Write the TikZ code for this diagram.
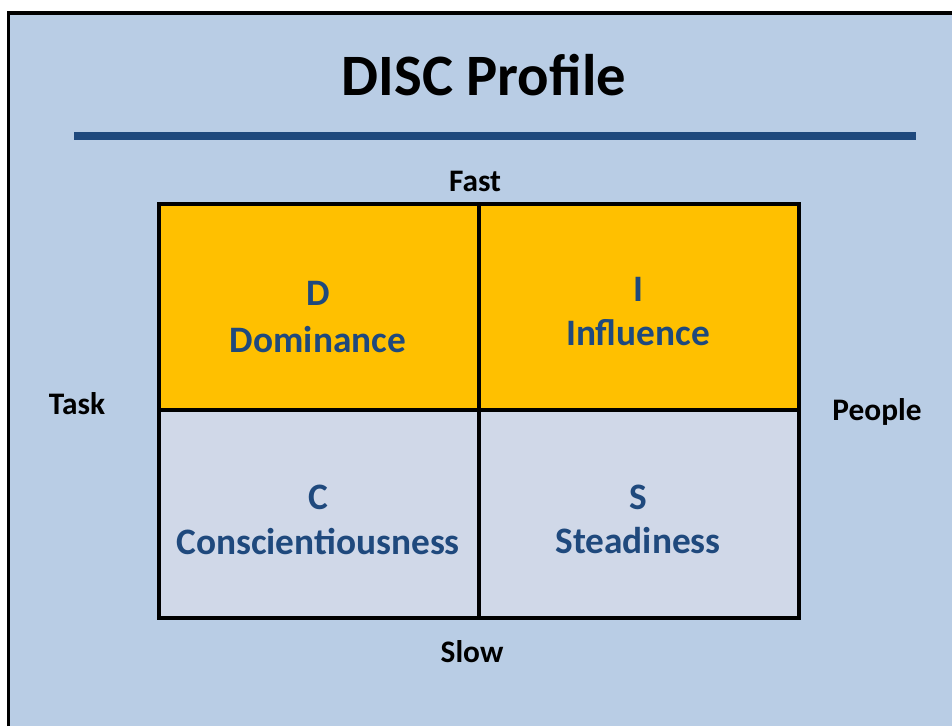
\documentclass[tikz,border=0pt]{standalone}
\usepackage{fontspec}
\setmainfont{Carlito}
\usepackage{tikz}
\usetikzlibrary{positioning}
\definecolor{slideblue}{RGB}{185,205,229}
\definecolor{discorange}{RGB}{255,192,0}
\definecolor{discgrey}{RGB}{208,216,232}
\definecolor{darkblue}{RGB}{31,73,125}

\begin{document}
\begin{tikzpicture}[%
  x=0.75pt, y=-0.75pt,
  axislabel/.style={font=\fontsize{23.5}{28}\selectfont\bfseries, text=black, inner sep=0pt},
  letter/.style={font=\fontsize{28}{32}\selectfont\bfseries, text=darkblue, inner sep=0pt},
  trait/.style={font=\fontsize{28}{32}\selectfont\bfseries, text=darkblue, inner sep=0pt},
]

  \useasboundingbox (0,0) rectangle (952,726);

  % slide background
  \fill[slideblue] (8.5,13) rectangle (952,726);
  \draw[line width=2.4pt] (8.5,726) -- (8.5,13) -- (952,13);

  \node[font=\fontsize{44}{50}\selectfont\bfseries, inner sep=0pt] (title) at (484,75) {DISC Profile};
  \coordinate (rulel) at (74,136);
  \coordinate (ruler) at (916,136);
  \draw[darkblue, line width=5.5pt] (rulel) -- (ruler);

  % quadrants
  \fill[discorange] (159,204) rectangle (799,410);
  \fill[discgrey] (159,410) rectangle (799,618);
  \draw[line width=3pt] (159,204) rectangle (799,618);
  \draw[line width=3pt] (479,204) -- (479,618);
  \draw[line width=3pt] (159,410) -- (799,410);

  \node[letter] (d) at (318,293) {D};
  \node[trait] (dominance) at (318,340) {Dominance};
  \node[letter] (i) at (638,289) {I};
  \node[trait] (influence) at (638,333) {Influence};
  \node[letter] (c) at (318,497) {C};
  \node[trait] (conscientiousness) at (318,541) {Conscientiousness};
  \node[letter] (s) at (638,497) {S};
  \node[trait] (steadiness) at (638,541) {Steadiness};

  \node[axislabel] (fast) at (475,181) {Fast};
  \node[axislabel] (slow) at (472,652) {Slow};
  \node[axislabel] (task) at (77,404) {Task};
  \node[axislabel] (people) at (877,412) {People};

\end{tikzpicture}
\end{document}
